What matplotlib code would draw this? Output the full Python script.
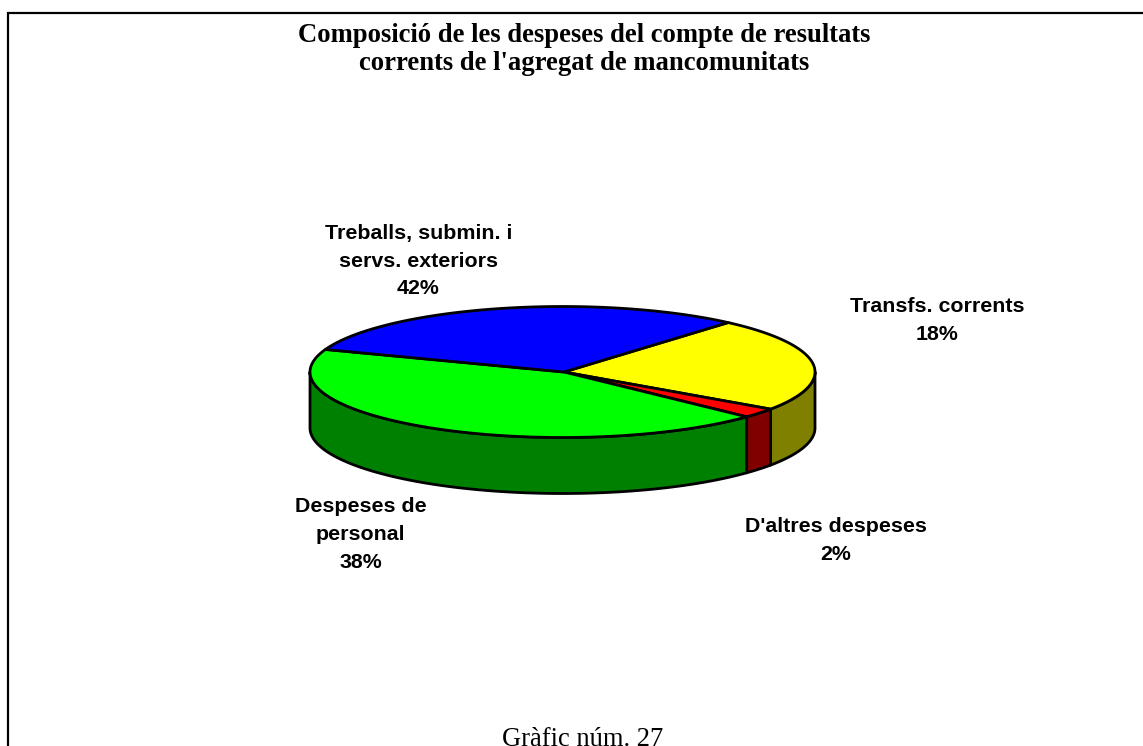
import numpy as np
import matplotlib
matplotlib.use("Agg")
import matplotlib.pyplot as plt
from matplotlib.patches import Polygon

# Slices in the order drawn clockwise from the start angle.
# Shares are those of the slices as drawn; printed percentages are the chart's own labels.
categories = ["Transfs. corrents", "D'altres despeses", "Despeses de personal", "Treballs, submin. i servs. exteriors"]
drawn_shares = [23.2, 2.4, 43.6, 30.8]
printed_labels = ["Transfs. corrents\n18%", "D'altres despeses\n2%",
                  "Despeses de\npersonal\n38%", "Treballs, submin. i\nservs. exteriors\n42%"]
top_colors = ["#FFFF00", "#FF0000", "#00FF00", "#0000FF"]
side_colors = ["#808000", "#800000", "#008000", "#000080"]
title_text = "Composició de les despeses del compte de resultats\ncorrents de l'agregat de mancomunitats"
footer_text = "Gràfic núm. 27"

W, H = 1143, 746
fig = plt.figure(figsize=(W / 100, H / 100), dpi=100)
ax = fig.add_axes([0, 0, 1, 1])
ax.set_xlim(0, W)
ax.set_ylim(H, 0)
ax.axis("off")

cx, cy, rx, ry, depth = 562.5, 372, 252.5, 65.5, 56
vx, vy = 564, 372
start_angle = 49.0
lw = 2.0

# frame: only the top and left edges are in the image
ax.plot([8, 8, W + 5], [H + 5, 13, 13], color="black", lw=1.6, solid_joinstyle="miter")


def arc(a0, a1, dy=0):
    t = np.radians(np.linspace(a0, a1, 200))
    return np.column_stack([cx + rx * np.cos(t), cy - ry * np.sin(t) + dy])


edges = start_angle - np.concatenate([[0], np.cumsum(drawn_shares)]) * 3.6

# side walls: only the front half (angles 0 to -180) is visible
for a0, a1, c in zip(edges[:-1], edges[1:], side_colors):
    lo, hi = max(a1, -180), min(a0, 0)
    if hi > lo:
        pts = np.vstack([arc(hi, lo), arc(lo, hi, depth)])
        ax.add_patch(Polygon(pts, closed=True, fc=c, ec="black", lw=lw, joinstyle="round", zorder=2))

# top faces
for a0, a1, c in zip(edges[:-1], edges[1:], top_colors):
    pts = np.vstack([[vx, vy], arc(a0, a1)])
    ax.add_patch(Polygon(pts, closed=True, fc=c, ec="black", lw=lw, joinstyle="round", zorder=3))

serif = "Liberation Serif"
sans = "Liberation Sans"
ax.text(584, 49.5, title_text, ha="center", va="center", family=serif, weight="bold",
        fontsize=19.2, linespacing=1.19)
label_xy = [(937, 320.5), (836, 540.5), (360.5, 534.3), (418.5, 261.3)]
for (x, y), s in zip(label_xy, printed_labels):
    ax.text(x, y, s, ha="center", va="center", family=sans, weight="bold", fontsize=15.4, linespacing=1.58)
ax.text(582.5, 740, footer_text, ha="center", va="center", family=serif, fontsize=19.1)

fig.savefig("out.png", dpi=100, facecolor="white")
